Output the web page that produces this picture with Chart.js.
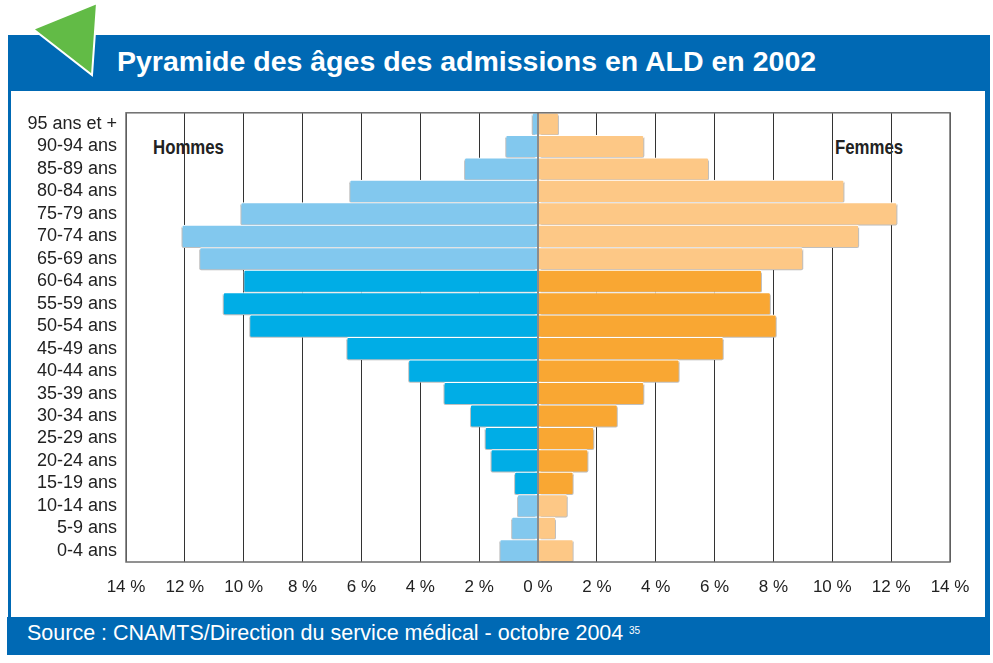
<!DOCTYPE html>
<html lang="fr">
<head>
<meta charset="utf-8">
<title>Pyramide des âges des admissions en ALD en 2002</title>
<script src="https://cdn.jsdelivr.net/npm/chart.js@4.4.1/dist/chart.umd.min.js"></script>
<style>
  body { margin: 0; width: 993px; height: 663px; background: #fff; position: relative; overflow: hidden;
         font-family: "Liberation Sans", Arial, sans-serif; }
  .band { position: absolute; background: #0069b4; }
  #title { position: absolute; left: 117px; top: 47px; color: #fff; font-weight: bold;
           font-size: 28.5px; line-height: 28.5px; white-space: nowrap; }
  #source { position: absolute; left: 27px; top: 623px; color: #fff; font-size: 21.5px;
            line-height: 21.5px; white-space: nowrap; }
  #sup { position: absolute; left: 629px; top: 626px; color: #fff; font-size: 10px; line-height: 10px; }
  .sexe { position: absolute; top: 136px; font-weight: bold; font-size: 21px; line-height: 21px;
          color: #222; transform: scaleX(0.8); transform-origin: left center; white-space: nowrap; z-index: 0; }
  #wrap { position: absolute; left: 0; top: 93px; width: 993px; height: 517px; z-index: 1; }
  svg { position: absolute; left: 0; top: 0; z-index: 2; }
</style>
</head>
<body>
<div class="band" style="left:8px; top:35px; width:982px; height:56px;"></div>
<div class="band" style="left:8px; top:90px; width:3px; height:528px;"></div>
<div class="band" style="left:985px; top:90px; width:5px; height:528px;"></div>
<div class="band" style="left:7px; top:617px; width:983px; height:38px;"></div>
<svg width="110" height="80"><polygon points="33,29 97,3 92,75" fill="#62bb46" stroke="#fff" stroke-width="2"/></svg>
<div id="title">Pyramide des âges des admissions en ALD en 2002</div>
<div id="source">Source : CNAMTS/Direction du service médical - octobre 2004</div>
<div id="sup">35</div>
<div class="sexe" style="left:153px;">Hommes</div>
<div class="sexe" style="left:835px;">Femmes</div>
<div id="wrap"><canvas id="pyramide" width="993" height="517"></canvas></div>
<script>
// Tranches d'âge, du haut vers le bas
const tranches = ['95 ans et +', '90-94 ans', '85-89 ans', '80-84 ans', '75-79 ans', '70-74 ans',
  '65-69 ans', '60-64 ans', '55-59 ans', '50-54 ans', '45-49 ans', '40-44 ans', '35-39 ans',
  '30-34 ans', '25-29 ans', '20-24 ans', '15-19 ans', '10-14 ans', '5-9 ans', '0-4 ans'];

// Part des admissions (%) par sexe
const hommes = [0.2, 1.1, 2.5, 6.4, 10.1, 12.1, 11.5, 10.0, 10.7, 9.8, 6.5, 4.4, 3.2, 2.3, 1.8, 1.6, 0.8, 0.7, 0.9, 1.3];
const femmes = [0.7, 3.6, 5.8, 10.4, 12.2, 10.9, 9.0, 7.6, 7.9, 8.1, 6.3, 4.8, 3.6, 2.7, 1.9, 1.7, 1.2, 1.0, 0.6, 1.2];

// Graduations de l'axe des x
const graduations = [-14, -12, -10, -8, -6, -4, -2, 0, 2, 4, 6, 8, 10, 12, 14];

const FONT = '"Liberation Sans", Arial, sans-serif';

// teinte claire pour les moins de 15 ans et les 65 ans et plus
function horsActifs(label) {
  const debut = parseInt(label, 10);
  return debut >= 65 || debut < 15;
}

const bleus = tranches.map(t => horsActifs(t) ? '#82c8ee' : '#00ade6');
const oranges = tranches.map(t => horsActifs(t) ? '#fdc886' : '#f9a733');

// ombre portée grise au bout des barres
const ombreBarres = {
  id: 'ombreBarres',
  beforeDatasetDraw(chart, args) {
    const ctx = chart.ctx;
    ctx.save();
    ctx.shadowColor = 'rgba(0,0,0,0.25)';
    ctx.shadowBlur = 1;
    ctx.shadowOffsetX = args.index === 0 ? -2 : 2;
    ctx.shadowOffsetY = 2;
  },
  afterDatasetDraw(chart) {
    chart.ctx.restore();
  }
};

// cadre de la zone de tracé
const cadre = {
  id: 'cadre',
  afterDraw(chart) {
    const { ctx, chartArea: a } = chart;
    ctx.save();
    ctx.strokeStyle = '#6e6e6e';
    ctx.lineWidth = 1.5;
    ctx.strokeRect(a.left, a.top, a.right - a.left, a.bottom - a.top);
    ctx.restore();
  }
};

new Chart(document.getElementById('pyramide'), {
  type: 'bar',
  data: {
    labels: tranches,
    datasets: [
      {
        label: 'Hommes',
        data: hommes.map(v => -v),
        backgroundColor: bleus,
        borderColor: '#fff',
        borderWidth: 1,
        borderRadius: 2,
        barPercentage: 1,
        categoryPercentage: 1
      },
      {
        label: 'Femmes',
        data: femmes,
        backgroundColor: oranges,
        borderColor: '#fff',
        borderWidth: 1,
        borderRadius: 2,
        barPercentage: 1,
        categoryPercentage: 1
      }
    ]
  },
  options: {
    indexAxis: 'y',
    responsive: false,
    animation: false,
    layout: { padding: { left: 0, right: 43, top: 6, bottom: 0 } },
    plugins: {
      legend: { display: false },
      tooltip: { enabled: false }
    },
    scales: {
      x: {
        stacked: true,
        min: -14,
        max: 14,
        z: 1,
        afterBuildTicks(scale) {
          scale.ticks = graduations.map(v => ({ value: v }));
        },
        afterFit(scale) { scale.height = 48; },
        border: { display: false },
        grid: {
          drawTicks: false,
          color: ctx => ctx.tick && ctx.tick.value === 0 ? '#8c8c8c' : '#333',
          lineWidth: ctx => ctx.tick && ctx.tick.value === 0 ? 2 : 1
        },
        ticks: {
          padding: 15,
          color: '#222',
          font: { family: FONT, size: 17 },
          maxRotation: 0,
          callback: v => Math.abs(v) + ' %'
        }
      },
      y: {
        stacked: true,
        afterFit(scale) { scale.width = 126; },
        border: { display: false },
        grid: { display: false, drawTicks: false },
        ticks: {
          autoSkip: false,
          padding: 9,
          color: '#222',
          font: { family: FONT, size: 18 }
        }
      }
    }
  },
  plugins: [ombreBarres, cadre]
});
</script>
</body>
</html>
